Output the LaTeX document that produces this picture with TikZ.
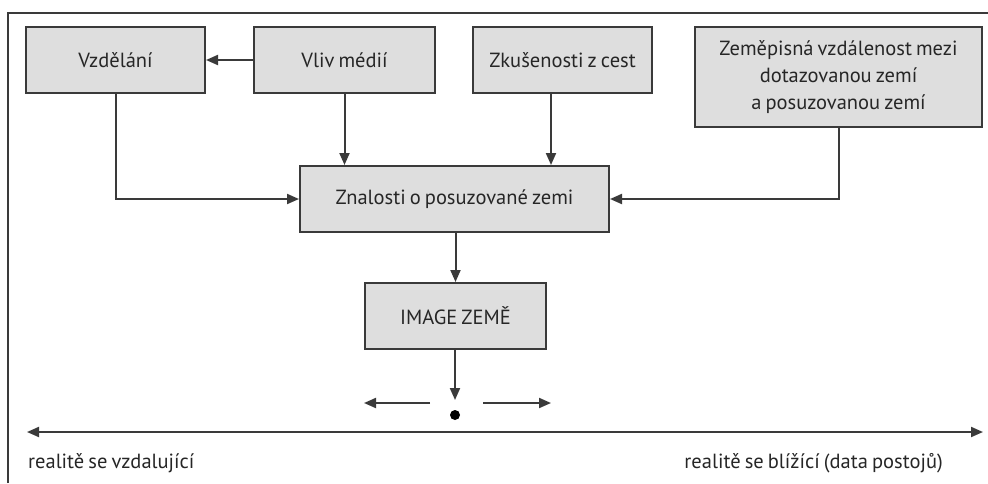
\documentclass[tikz,border=0pt]{standalone}
\usepackage{fontspec}
\setmainfont[WordSpace=0.75]{PT Sans}
\usetikzlibrary{arrows.meta}
\definecolor{boxfill}{HTML}{DEDEDE}
\definecolor{edge}{HTML}{3A3A3A}
\begin{document}
\begin{tikzpicture}[x=1pt,y=-1pt,
  box/.style={draw=edge,fill=boxfill,line width=2pt,inner sep=0pt,align=center,font=\fontsize{20.5}{27}\selectfont,text=black!85},
  conn/.style={draw=edge,line width=2pt,-{Triangle[length=12pt,width=10pt]}},
  lbl/.style={font=\fontsize{20.5}{24}\selectfont,text=black!85,inner sep=0pt}]
\useasboundingbox (0,0) rectangle (988,483);
\draw[edge,line width=2pt] (8,483) -- (8,13) -- (988,13);
\node[box,minimum width=179pt,minimum height=66pt] (vzd) at (115.5,60) {Vzdělání};
\node[box,minimum width=181pt,minimum height=66pt] (vliv) at (344.5,60) {Vliv médií};
\node[box,minimum width=179pt,minimum height=66pt] (zk) at (562.5,60) {Zkušenosti z cest};
\node[box,minimum width=287pt,minimum height=100pt] (zem) at (838.5,77) {Zeměpisná vzdálenost mezi\\dotazovanou zemí\\a posuzovanou zemí};
\node[box,minimum width=309pt,minimum height=66pt] (zn) at (454.5,199) {Znalosti o posuzované zemi};
\node[box,minimum width=181pt,minimum height=66pt] (img) at (455.5,316) {IMAGE ZEMĚ};
\node[circle,fill=black,inner sep=0pt,minimum size=10pt] (dot) at (455,415) {};
\coordinate (dtop) at (455,400);
\coordinate (la) at (430,403);
\coordinate (lb) at (364,403);
\coordinate (ra) at (483,403);
\coordinate (rb) at (551,403);
\coordinate (axl) at (27,432);
\coordinate (axr) at (983,432);
\draw[conn] (vliv.west) -- (vzd.east);
\draw[conn] (vliv.south) -- (vliv.south |- zn.north);
\draw[conn] (zk.south -| 551,0) -- (551,0 |- zn.north);
\draw[conn] (vzd.south) |- (zn.west);
\draw[conn] (zem.south) |- (zn.east);
\draw[conn] (zn.south -| img.north) -- (img.north);
\draw[conn] (img.south -| dtop) -- (dtop);
\draw[conn] (la) -- (lb);
\draw[conn] (ra) -- (rb);
\draw[draw=edge,line width=2pt,{Triangle[length=12pt,width=10pt]}-{Triangle[length=12pt,width=10pt]}] (axl) -- (axr);
\node[lbl,anchor=west] (lt) at (28,463) {realitě se vzdalující};
\node[lbl,anchor=east] (rt) at (943,463) {realitě se blížící (data postojů)};
\end{tikzpicture}
\end{document}
